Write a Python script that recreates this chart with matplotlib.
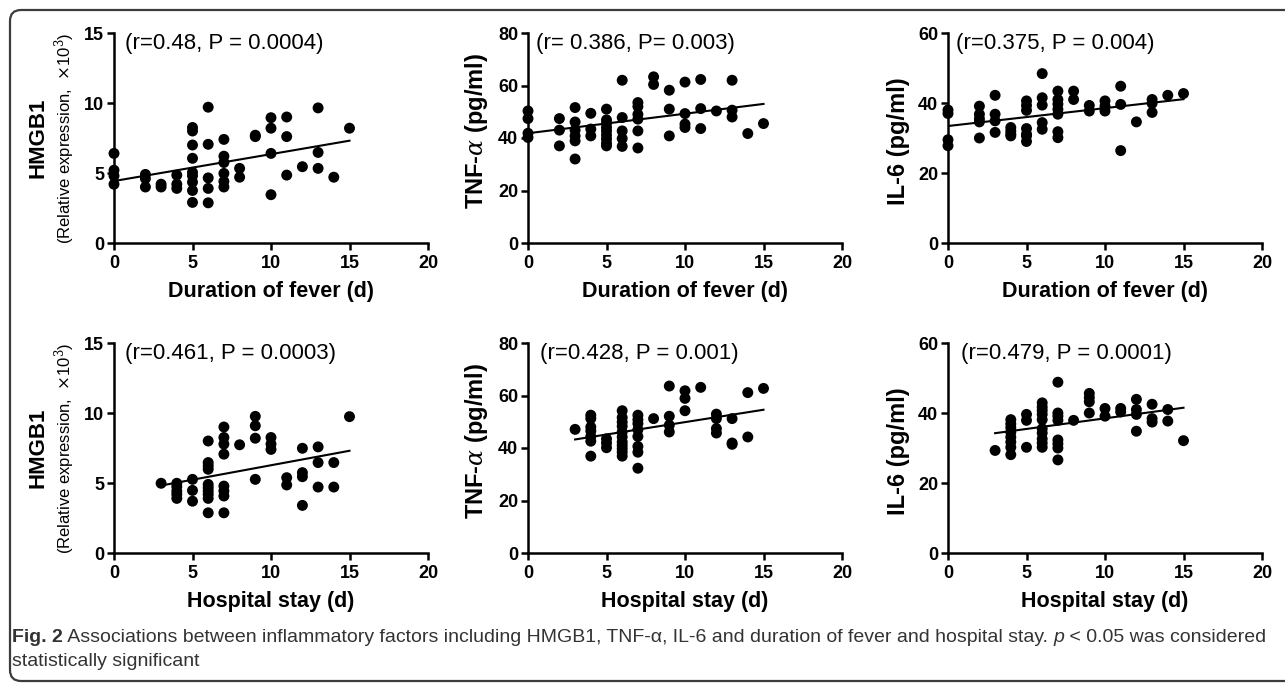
import matplotlib
matplotlib.use("Agg")
import matplotlib.pyplot as plt
import numpy as np
from matplotlib.patches import FancyBboxPatch
from matplotlib.transforms import IdentityTransform

plt.rcParams["font.family"] = ["Liberation Sans", "DejaVu Sans"]
plt.rcParams["mathtext.fontset"] = "dejavuserif"

# ---- data ----
fever_hmgb1_x = [0, 0, 0, 0, 2, 2, 2, 3, 3, 4, 4, 4,
                 5, 5, 5, 5, 5, 5, 5, 5, 5, 6, 6, 6, 6, 6,
                 7, 7, 7, 7, 7, 7, 8, 8, 9, 9, 10, 10, 10, 10,
                 11, 11, 11, 12, 13, 13, 13, 14, 15]
fever_hmgb1_y = [6.4, 5.2, 4.8, 4.2, 4.9, 4.6, 4.0, 4.2, 4.0, 4.85, 4.2, 3.9,
                 8.25, 8.0, 7.0, 6.05, 5.05, 4.8, 4.35, 3.75, 2.9, 9.7, 7.05, 4.65, 3.9, 2.87,
                 7.4, 6.2, 5.75, 4.97, 4.4, 4.0, 5.33, 4.7, 7.7, 7.6, 8.95, 8.2, 6.4, 3.45,
                 9.0, 7.6, 4.85, 5.45, 9.65, 6.47, 5.33, 4.7, 8.2]

fever_tnf_x = [0, 0, 0, 0, 2, 2, 2, 3, 3, 3, 3, 3, 3, 4, 4, 4,
               5, 5, 5, 5, 5, 5, 5, 5, 5, 6, 6, 6, 6, 6,
               7, 7, 7, 7, 7, 7, 8, 8, 9, 9, 9, 10, 10, 10, 10,
               11, 11, 11, 12, 13, 13, 13, 14, 15]
fever_tnf_y = [50.3, 47.4, 41.8, 40.2, 47.4, 43.0, 37.0, 51.6, 46.1, 43.0, 40.8, 38.9, 32.0,
               49.4, 43.4, 40.8,
               51.0, 46.9, 45.6, 44.0, 42.7, 41.1, 39.6, 38.0, 37.0, 62.0, 47.8, 42.7, 39.8, 36.8,
               53.5, 52.0, 49.0, 47.2, 42.7, 36.2, 63.3, 60.4, 58.2, 51.0, 40.8,
               61.3, 49.3, 45.3, 44.0, 62.3, 51.2, 43.6, 50.3, 62.0, 50.6, 48.0, 41.7, 45.5]

fever_il6_x = [0, 0, 0, 0, 2, 2, 2, 2, 2, 3, 3, 3, 3, 4, 4, 4, 4,
               5, 5, 5, 5, 5, 5, 5, 6, 6, 6, 6, 6,
               7, 7, 7, 7, 7, 7, 7, 8, 8, 9, 9, 10, 10, 10,
               11, 11, 11, 12, 13, 13, 13, 14, 15]
fever_il6_y = [38.0, 37.0, 29.5, 27.8, 39.1, 36.8, 35.5, 34.6, 30.0, 42.2, 36.8, 34.9, 31.6,
               33.0, 32.0, 31.1, 30.6,
               40.6, 39.3, 37.9, 32.7, 31.1, 30.6, 29.0, 48.4, 41.5, 39.4, 34.4, 32.5,
               43.4, 41.0, 39.7, 38.2, 36.8, 31.8, 30.1, 43.4, 41.0, 39.3, 37.7,
               40.6, 39.1, 37.7, 44.8, 39.6, 26.4, 34.6, 41.0, 39.9, 37.3, 42.2, 42.7]

stay_hmgb1_x = [3, 4, 4, 4, 4, 4, 5, 5, 5,
                6, 6, 6, 6, 6, 6, 6, 6, 6, 6,
                7, 7, 7, 7, 7, 7, 7, 7, 8, 9, 9, 9, 9, 10, 10, 10,
                11, 11, 12, 12, 12, 12, 13, 13, 13, 14, 14, 15]
stay_hmgb1_y = [4.98, 4.98, 4.74, 4.43, 4.19, 3.9, 5.26, 4.47, 3.7,
                8.0, 6.46, 6.22, 5.98, 4.9, 4.67, 4.43, 4.19, 3.9, 2.87,
                9.0, 8.25, 7.78, 7.06, 4.78, 4.43, 4.07, 2.87, 7.73,
                9.76, 9.09, 8.2, 5.26, 8.25, 7.78, 7.4,
                5.38, 4.86, 7.48, 5.74, 5.45, 3.4, 7.58, 6.46, 4.71, 6.46, 4.71, 9.74]

stay_tnf_x = [3, 4, 4, 4, 4, 4, 4, 4, 5, 5, 5,
              6, 6, 6, 6, 6, 6, 6, 6, 6, 6, 6,
              7, 7, 7, 7, 7, 7, 7, 7, 8, 9, 9, 9, 9, 10, 10, 10, 11,
              12, 12, 12, 12, 13, 13, 13, 14, 14, 15]
stay_tnf_y = [47.1, 52.5, 51.2, 48.0, 46.5, 44.4, 42.6, 36.9, 43.5, 41.9, 40.1,
              54.2, 51.6, 49.9, 48.3, 46.1, 44.2, 42.3, 41.0, 39.7, 38.4, 36.9,
              52.5, 50.8, 49.3, 47.0, 44.4, 40.6, 38.4, 32.3, 51.2,
              63.6, 52.1, 48.7, 46.1, 61.8, 58.9, 54.2, 63.1,
              52.9, 51.2, 47.4, 45.7, 51.2, 41.9, 41.4, 61.1, 44.2, 62.7]

stay_il6_x = [3, 4, 4, 4, 4, 4, 4, 4, 4, 5, 5, 5,
              6, 6, 6, 6, 6, 6, 6, 6, 6, 6,
              7, 7, 7, 7, 7, 7, 7, 7, 8, 9, 9, 9, 9, 10, 10, 11, 11,
              12, 12, 12, 12, 13, 13, 13, 14, 14, 15]
stay_il6_y = [29.3, 38.1, 36.9, 35.8, 34.5, 33.1, 31.7, 30.2, 28.1, 39.6, 37.9, 30.2,
              42.9, 41.7, 40.7, 39.6, 38.1, 35.5, 34.3, 32.6, 31.4, 30.2,
              48.8, 40.0, 39.1, 37.9, 32.3, 31.2, 30.0, 26.6, 37.9,
              45.6, 44.4, 43.2, 40.0, 41.3, 39.1, 41.3, 40.3,
              43.9, 41.0, 39.6, 34.8, 42.5, 38.4, 37.4, 41.0, 37.7, 32.1]

stats_text = ["(r=0.48, P = 0.0004)", "(r= 0.386, P= 0.003)", "(r=0.375, P = 0.004)",
              "(r=0.461, P = 0.0003)", "(r=0.428, P = 0.001)", "(r=0.479, P = 0.0001)"]
x_labels = ["Duration of fever (d)", "Hospital stay (d)"]
y_labels = ["HMGB1", r"TNF-$\alpha$ (pg/ml)", "IL-6 (pg/ml)"]
y_limits = [15, 80, 60]
y_steps = [5, 20, 20]

panels = [
    (fever_hmgb1_x, fever_hmgb1_y), (fever_tnf_x, fever_tnf_y), (fever_il6_x, fever_il6_y),
    (stay_hmgb1_x, stay_hmgb1_y), (stay_tnf_x, stay_tnf_y), (stay_il6_x, stay_il6_y),
]

W, H = 1285, 683
fig = plt.figure(figsize=(W / 100, H / 100), dpi=100)

# frame around the whole figure
frame = FancyBboxPatch((10, 2), 1320, 671, boxstyle="round,pad=0,rounding_size=11",
                       transform=IdentityTransform(), fill=False,
                       edgecolor="#3c3c3c", linewidth=1.6)
fig.add_artist(frame)

col_left = [114, 528, 948]
row_top = [33, 343]
ax_w, ax_h = 314, 210
text_dx = [11, 8, 8, 11, 12, 13]
label_dx = [0, 51, 49]
label_dy = [0, 7, -3]

for i, (xs, ys) in enumerate(panels):
    r, c = divmod(i, 3)
    left = col_left[c] / W
    bottom = 1 - (row_top[r] + ax_h) / H
    ax = fig.add_axes([left, bottom, ax_w / W, ax_h / H])

    xs = np.asarray(xs, dtype=float)
    ys = np.asarray(ys, dtype=float)
    ax.scatter(xs, ys, s=62, color="black", edgecolors="none", clip_on=False, zorder=3)

    slope, intercept = np.polyfit(xs, ys, 1)
    fx = np.array([xs.min(), xs.max()])
    ax.plot(fx, slope * fx + intercept, color="black", lw=1.5, zorder=2)

    ax.set_xlim(0, 20)
    ax.set_ylim(0, y_limits[c])
    ax.set_xticks([0, 5, 10, 15, 20])
    ax.set_yticks(np.arange(0, y_limits[c] + 1, y_steps[c]))
    for side in ["top", "right"]:
        ax.spines[side].set_visible(False)
    for side in ["left", "bottom"]:
        ax.spines[side].set_linewidth(1.8)
    ax.tick_params(direction="out", length=5, width=1.8, pad=2, labelsize=13)
    for lab in ax.get_xticklabels() + ax.get_yticklabels():
        lab.set_fontweight("bold")
    ax.tick_params(axis="x", pad=4)

    ax.text(text_dx[i] / ax_w, 1 - 10 / ax_h, stats_text[i], transform=ax.transAxes,
            fontsize=16, ha="left", va="center")

    ax.text(0.5, -48 / ax_h, x_labels[r], transform=ax.transAxes, fontsize=15.5,
            fontweight="bold", ha="center", va="center")

    if c == 0:
        ax.text(-76 / ax_w, 0.5, y_labels[0], transform=ax.transAxes, rotation=90,
                fontsize=16, fontweight="bold", ha="center", va="center")
        ax.text(-49 / ax_w, 0.5, r"(Relative expression,  $\times$10$^{3}$)",
                transform=ax.transAxes, rotation=90, fontsize=12, ha="center", va="center")
    else:
        ax.text(-label_dx[c] / ax_w, 0.5 + label_dy[c] / ax_h, y_labels[c],
                transform=ax.transAxes, rotation=90,
                fontsize=17, fontweight="bold", ha="center", va="center")

# caption with mixed styles
cap_font = ["Liberation Sans", "DejaVu Sans"]
cap_color = "#333333"
cap_size = 14
line1 = [("Fig. 2", "bold", "normal"),
         (" Associations between inflammatory factors including HMGB1, TNF-\u03b1, IL-6 and "
          "duration of fever and hospital stay. ", "normal", "normal"),
         ("p", "normal", "italic"),
         (" < 0.05 was considered", "normal", "normal")]
line2 = [("statistically significant", "normal", "normal")]

fig.canvas.draw()
renderer = fig.canvas.get_renderer()
for y_px, parts in [(637, line1), (661, line2)]:
    x_px = 12
    for txt, weight, style in parts:
        t = fig.text(x_px / W, 1 - y_px / H, txt, fontsize=cap_size, fontweight=weight,
                     fontstyle=style, family=cap_font, color=cap_color, va="center", ha="left")
        bb = t.get_window_extent(renderer=renderer)
        x_px += bb.width

fig.savefig("out.png", dpi=100)
